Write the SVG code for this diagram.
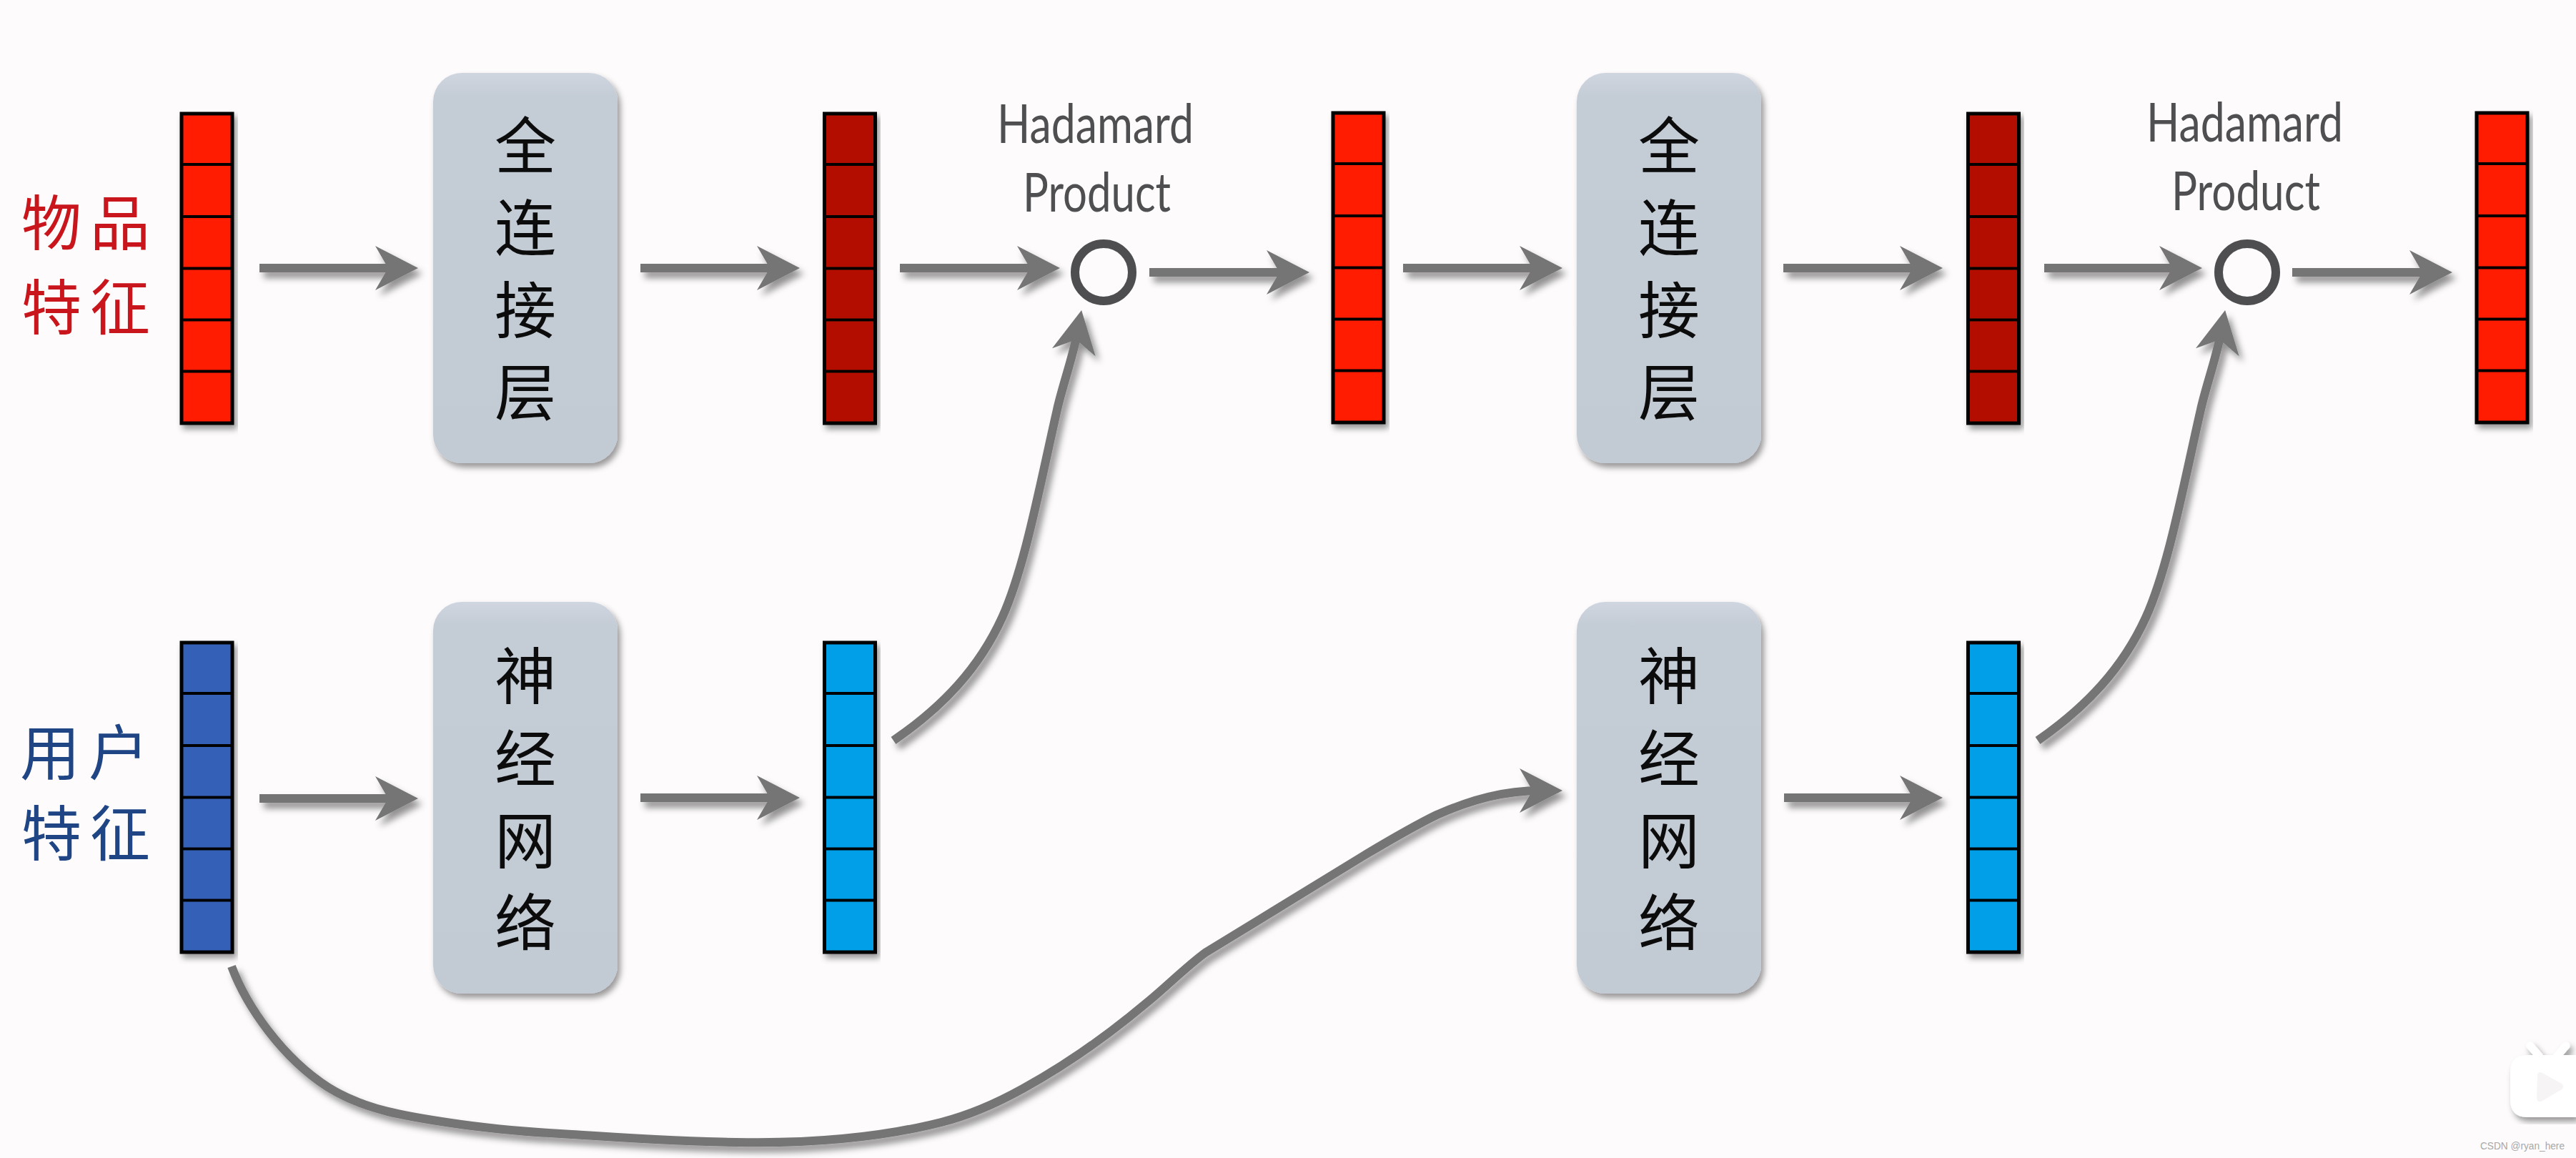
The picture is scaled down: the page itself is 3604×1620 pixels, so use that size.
<svg xmlns="http://www.w3.org/2000/svg" xmlns:xlink="http://www.w3.org/1999/xlink" width="3604" height="1620" viewBox="0 0 3604 1620">
<style>
.cjk{font-family:"Noto Sans CJK SC","Noto Sans CJK TC",sans-serif}
.stack{font-size:86px;fill:#0c0c0c;writing-mode:vertical-rl;letter-spacing:29px}
.label{font-size:84px;letter-spacing:12px}
.hp{font-family:Lato,"Open Sans",sans-serif;font-size:75px;font-weight:400;fill:#4f4f51}
.box{fill:url(#boxfill)}
.frame{stroke:#050505;stroke-width:5}
.div{stroke:#050505;stroke-width:4;fill:none}
.red{fill:#ff1a00}.dark{fill:#b31000}.cyan{fill:#009fe8}.blue{fill:#3560b8}
.ring{fill:#fdfbfc;stroke:#4e4e50;stroke-width:12}
.link{fill:none;stroke:#757575;stroke-width:12;marker-end:url(#head)}
</style>
<defs>
<linearGradient id="boxfill" x1="0" y1="0" x2="0" y2="1">
<stop offset="0" stop-color="#d0d6df"/><stop offset=".06" stop-color="#c4ccd6"/><stop offset="1" stop-color="#c2cad4"/>
</linearGradient>
<filter id="shadow" x="-30%" y="-30%" width="160%" height="160%">
<feDropShadow dx="6" dy="8" stdDeviation="5" flood-color="#000" flood-opacity=".42"/>
</filter>
<filter id="soft" x="-10%" y="-10%" width="120%" height="120%">
<feDropShadow dx="4" dy="6" stdDeviation="4" flood-color="#000" flood-opacity=".4"/>
</filter>
<marker id="head" markerUnits="userSpaceOnUse" markerWidth="60" markerHeight="62" viewBox="0 0 60 62" refX="30" refY="31" orient="auto">
<path d="M0 0L60 31L0 62L18 31Z" fill="#757575"/>
</marker>
<g id="cells">
<rect class="frame" x="0" y="0" width="71" height="433"/>
<path class="div" d="M0 71H71M0 144H71M0 216.500H71M0 288.500H71M0 360.500H71"/>
</g>
</defs>
<rect width="3604" height="1620" fill="#fdfbfc"/>

<g id="connectors" filter="url(#shadow)">
<path class="link" d="M363 375H555"/>
<path class="link" d="M896 375H1089"/>
<path class="link" d="M1259 375H1453"/>
<path class="link" d="M1608 381H1802"/>
<path class="link" d="M1963 375H2156"/>
<path class="link" d="M2495 375H2688"/>
<path class="link" d="M2860 375H3051"/>
<path class="link" d="M3207 381H3401"/>
<path class="link" d="M363 1117H555"/>
<path class="link" d="M896 1116H1089"/>
<path class="link" d="M2496 1116H2688"/>
<path class="link" d="M1250 1036C1320 988 1370 934 1402 864C1434 794 1456 673 1479 573C1486 541 1501 500 1507.700 463.500"/>
<path class="link" d="M2851 1036C2920 988 2970 934 3002 864C3034 794 3056 673 3079 573C3086 541 3101 500 3107.700 463.500"/>
<path class="link" d="M324 1352C345 1408 395 1480 459 1521C510 1553 570 1562 631 1571C690 1580 745 1584 800 1587C880 1592 950 1597 1030 1598C1130 1600 1230 1592 1317 1570C1360 1559 1395 1543 1431 1523C1500 1485 1560 1440 1604 1403C1630 1382 1660 1352 1686 1333C1760 1288 1840 1238 1908 1197C1945 1175 1975 1157 2010 1140C2060 1118 2105 1106 2156 1106"/>
</g>

<g id="item-feature-label"><text class="cjk label" fill="#c9161c"><tspan x="30" y="343">物品</tspan><tspan x="30" y="461">特征</tspan></text></g>
<g id="user-feature-label"><text class="cjk label" fill="#1f4585"><tspan x="28" y="1084">用户</tspan><tspan x="30" y="1197">特征</tspan></text></g>

<g id="item-vector-1" class="red" filter="url(#soft)"><use href="#cells" x="254" y="159"/></g>
<g id="item-vector-2" class="dark" filter="url(#soft)"><use href="#cells" x="1153.500" y="159"/></g>
<g id="item-vector-3" class="red" filter="url(#soft)"><use href="#cells" x="1865" y="158"/></g>
<g id="item-vector-4" class="dark" filter="url(#soft)"><use href="#cells" x="2753.500" y="159"/></g>
<g id="item-vector-5" class="red" filter="url(#soft)"><use href="#cells" x="3465" y="158"/></g>
<g id="user-vector-1" class="blue" filter="url(#soft)"><use href="#cells" x="254" y="899"/></g>
<g id="user-vector-2" class="cyan" filter="url(#soft)"><use href="#cells" x="1153.500" y="899"/></g>
<g id="user-vector-3" class="cyan" filter="url(#soft)"><use href="#cells" x="2753.500" y="899"/></g>

<g id="fc-layer-1"><rect class="box" x="606" y="102" width="258" height="546" rx="40" filter="url(#soft)"/>
<text class="cjk stack" x="735" y="160">全连接层</text></g>
<g id="fc-layer-2"><rect class="box" x="2206" y="102" width="258" height="546" rx="40" filter="url(#soft)"/>
<text class="cjk stack" x="2335" y="160">全连接层</text></g>
<g id="nn-1"><rect class="box" x="606" y="842" width="258" height="548" rx="40" filter="url(#soft)"/>
<text class="cjk stack" x="735" y="902">神经网络</text></g>
<g id="nn-2"><rect class="box" x="2206" y="842" width="258" height="548" rx="40" filter="url(#soft)"/>
<text class="cjk stack" x="2335" y="902">神经网络</text></g>

<g id="hadamard-1">
<circle class="ring" cx="1544" cy="381" r="40"/>
<text class="hp" x="1395" y="200" textLength="275" lengthAdjust="spacingAndGlyphs">Hadamard</text>
<text class="hp" x="1431" y="296" textLength="207" lengthAdjust="spacingAndGlyphs">Product</text>
</g>
<g id="hadamard-2">
<circle class="ring" cx="3144" cy="381" r="40"/>
<text class="hp" x="3003" y="198" textLength="275" lengthAdjust="spacingAndGlyphs">Hadamard</text>
<text class="hp" x="3038" y="294" textLength="208" lengthAdjust="spacingAndGlyphs">Product</text>
</g>

<g id="watermark">
<g filter="url(#soft)" fill="#fff">
<path d="M3540 1463L3553 1478M3590 1463L3577 1478" stroke="#fff" stroke-width="11" stroke-linecap="round"/>
<path d="M3536 1476H3604V1563H3536Q3512 1563 3512 1538V1500Q3512 1476 3536 1476Z"/>
</g>
<path d="M3550 1505Q3550 1498 3557 1501L3584 1516Q3589 1520 3584 1524L3557 1540Q3550 1544 3549 1535Z" fill="#f6f4f5"/>
<text x="3470" y="1608" textLength="118" lengthAdjust="spacingAndGlyphs" font-family="Liberation Sans, sans-serif" font-size="14" fill="#a8a8a8">CSDN @ryan_here</text>
</g>
</svg>
